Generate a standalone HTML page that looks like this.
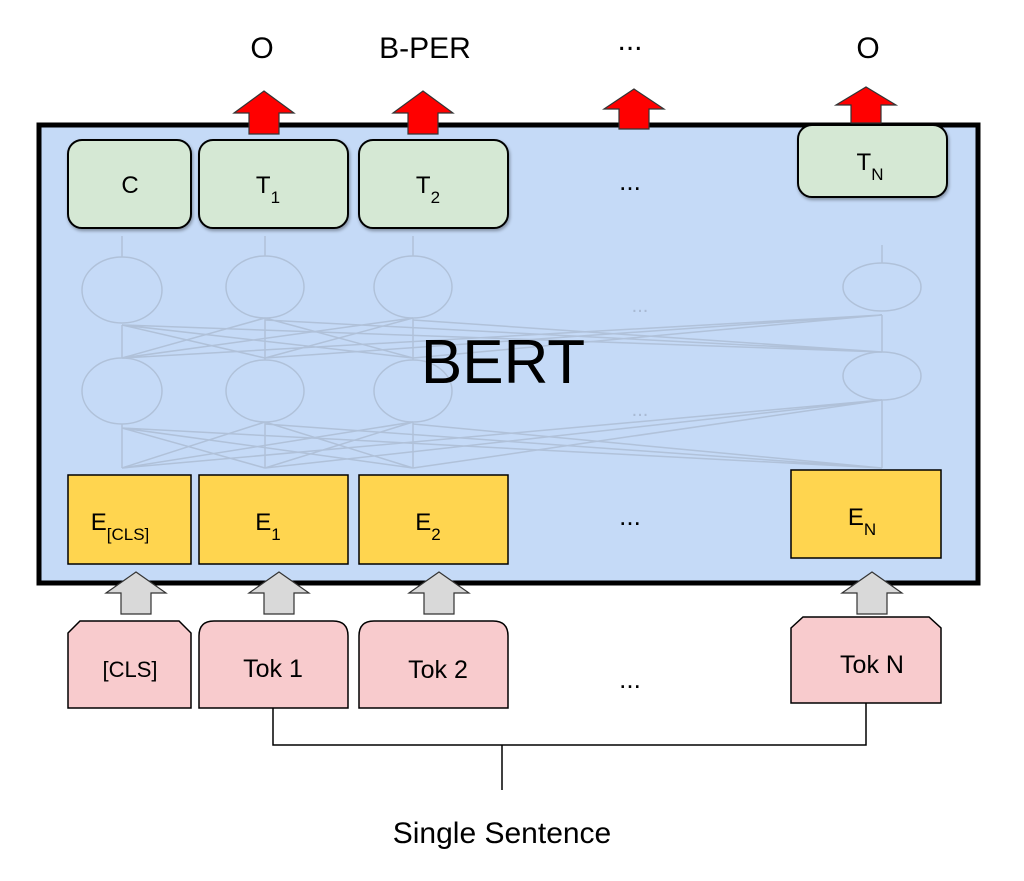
<!DOCTYPE html>
<html><head><style>
body{margin:0;background:#fff;}
svg{display:block;font-family:"Liberation Sans",Arial,sans-serif;}
</style></head><body>
<svg width="1024" height="881" viewBox="0 0 1024 881" xmlns="http://www.w3.org/2000/svg">
<defs>
<filter id="sh" x="-10%" y="-10%" width="130%" height="130%"><feDropShadow dx="1" dy="2" stdDeviation="1.5" flood-opacity="0.35"/></filter>
</defs>
<!-- top labels -->
<g font-size="30" text-anchor="middle" fill="#000">
<text x="262" y="58">O</text>
<text x="425" y="58">B-PER</text>
<text x="630" y="50">...</text>
<text x="868" y="58">O</text>
</g>
<!-- main box -->
<rect x="39" y="125" width="939" height="458" fill="#c5daf7" stroke="#000" stroke-width="5"/>
<!-- faint network -->
<g stroke="#aebfd6" stroke-width="1.5" fill="none" opacity="0.9">
<ellipse cx="122" cy="290" rx="40" ry="33"/><ellipse cx="265" cy="287" rx="39" ry="31"/><ellipse cx="413" cy="287" rx="39" ry="31"/><ellipse cx="882" cy="287" rx="39" ry="24"/>
<ellipse cx="122" cy="391" rx="40" ry="33"/><ellipse cx="265" cy="391" rx="39" ry="31"/><ellipse cx="413" cy="391" rx="39" ry="31"/><ellipse cx="882" cy="376" rx="39" ry="24"/>
<line x1="122" y1="257" x2="122" y2="236"/><line x1="265" y1="256" x2="265" y2="236"/><line x1="413" y1="256" x2="413" y2="236"/><line x1="882" y1="263" x2="882" y2="245"/>
<line x1="122" y1="358" x2="122" y2="325"/><line x1="265" y1="360" x2="265" y2="318"/><line x1="413" y1="360" x2="413" y2="318"/><line x1="882" y1="352" x2="882" y2="315"/>
<line x1="122" y1="468" x2="122" y2="424"/><line x1="265" y1="468" x2="265" y2="422"/><line x1="413" y1="468" x2="413" y2="422"/><line x1="882" y1="468" x2="882" y2="400"/>
<path d="M122 358L265 318M122 358L413 318M122 358L882 315M265 358L122 325M265 358L413 318M265 358L882 315M413 358L122 325M413 358L265 318M413 358L882 315M882 352L122 325M882 352L265 320M882 352L413 320"/>
<path d="M122 468L265 422M122 468L413 422M122 468L882 400M265 468L122 428M265 468L413 422M265 468L882 400M413 468L122 428M413 468L265 422M413 468L882 400M882 468L122 428M882 468L265 424M882 468L413 424"/>
</g>
<g fill="#a9bad3" font-size="20" text-anchor="middle"><text x="640" y="312">...</text><text x="640" y="416">...</text></g>
<text x="503" y="383" font-size="62" text-anchor="middle" fill="#000">BERT</text>
<!-- green boxes -->
<g fill="#d5e8d4" stroke="#000" stroke-width="2" filter="url(#sh)">
<rect x="68" y="140" width="123" height="88" rx="14"/>
<rect x="199" y="140" width="149" height="88" rx="14"/>
<rect x="359" y="140" width="149" height="88" rx="14"/>
<rect x="798" y="125" width="149" height="72" rx="14"/>
</g>
<g font-size="24" fill="#000" text-anchor="middle">
<text x="130" y="193">C</text>
<text x="268" y="193">T<tspan font-size="17" dy="10">1</tspan></text>
<text x="428" y="193">T<tspan font-size="17" dy="10">2</tspan></text>
<text x="870" y="170">T<tspan font-size="17" dy="10">N</tspan></text>
<text x="630" y="190" font-size="26">...</text>
</g>
<!-- red arrows -->
<g fill="#ff0000" stroke="#333" stroke-width="1.2">
<path d="M234 113L264 91L294 113L279 113L279 134L249 134L249 113Z"/>
<path d="M393 113L423 91L453 113L438 113L438 134L408 134L408 113Z"/>
<path d="M604 109L634 89L664 109L649 109L649 129L619 129L619 109Z"/>
<path d="M836 105L866 87L896 105L881 105L881 123L851 123L851 105Z"/>
</g>
<!-- yellow boxes -->
<g fill="#ffd54f" stroke="#000" stroke-width="1.5">
<rect x="68" y="475" width="123" height="89"/>
<rect x="199" y="475" width="149" height="89"/>
<rect x="359" y="475" width="149" height="89"/>
<rect x="791" y="470" width="150" height="88"/>
</g>
<g font-size="24" fill="#000" text-anchor="middle">
<text x="120" y="530">E<tspan font-size="17" dy="10">[CLS]</tspan></text>
<text x="268" y="530">E<tspan font-size="17" dy="10">1</tspan></text>
<text x="428" y="530">E<tspan font-size="17" dy="10">2</tspan></text>
<text x="862" y="525">E<tspan font-size="17" dy="10">N</tspan></text>
<text x="630" y="525" font-size="26">...</text>
</g>
<!-- gray arrows -->
<g fill="#d9d9d9" stroke="#333" stroke-width="1.2">
<path d="M106 593L136 572L166 593L151 593L151 614L121 614L121 593Z"/>
<path d="M249 593L279 572L309 593L294 593L294 614L264 614L264 593Z"/>
<path d="M409 593L439 572L469 593L454 593L454 614L424 614L424 593Z"/>
<path d="M842 593L872 572L902 593L887 593L887 614L857 614L857 593Z"/>
</g>
<!-- tokens -->
<g fill="#f8cbcd" stroke="#000" stroke-width="1.5">
<path d="M68 633L80 621L179 621L191 633L191 708L68 708Z"/>
<path d="M199 708L199 636Q199 621 214 621L333 621Q348 621 348 636L348 708Z"/>
<path d="M359 708L359 636Q359 621 374 621L493 621Q508 621 508 636L508 708Z"/>
<path d="M791 628L803 617L929 617L941 628L941 703L791 703Z"/>
</g>
<g font-size="25" fill="#000" text-anchor="middle">
<text x="130" y="677" font-size="22">[CLS]</text>
<text x="273" y="677">Tok 1</text>
<text x="438" y="678">Tok 2</text>
<text x="872" y="673">Tok N</text>
<text x="630" y="688" font-size="26">...</text>
</g>
<path d="M273 708L273 745L866 745L866 703M502 745L502 790" stroke="#000" stroke-width="1.5" fill="none"/>
<text x="502" y="843" font-size="30" text-anchor="middle" fill="#000">Single Sentence</text>
</svg>
</body></html>
